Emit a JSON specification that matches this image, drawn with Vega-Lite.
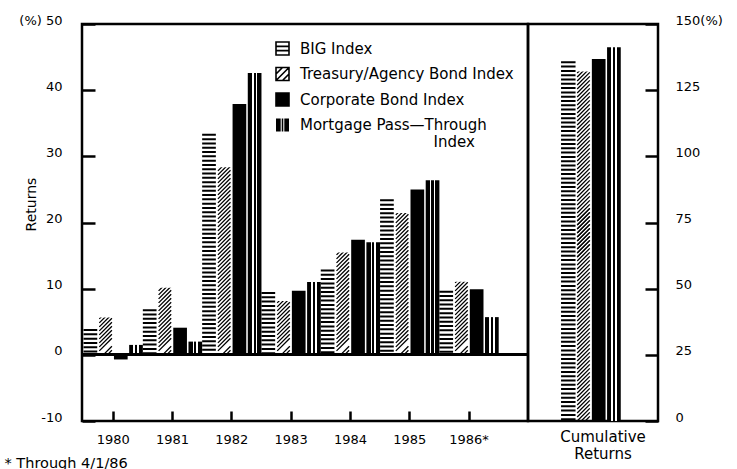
{
  "$schema": "https://vega.github.io/schema/vega-lite/v6.json",
  "background": "white",
  "padding": {"left": 2, "top": 12, "right": 5, "bottom": 2},
  "bounds": "flush",
  "spacing": 0,
  "config": {
    "view": {"stroke": "black", "strokeWidth": 2.5},
    "font": "DejaVu Sans",
    "axis": {"labelFont": "DejaVu Sans", "titleFont": "DejaVu Sans", "labelColor": "black", "titleColor": "black", "tickColor": "black", "grid": false, "domain": false, "labelFontSize": 13, "tickWidth": 2.5},
    "legend": {"labelFont": "DejaVu Sans", "labelColor": "black"}
  },
  "datasets": {
    "years": [
      {"year": "1980", "series": "BIG Index", "value": 3.9},
      {"year": "1980", "series": "Treasury/Agency Bond Index", "value": 5.8},
      {"year": "1980", "series": "Corporate Bond Index", "value": -0.7},
      {"year": "1980", "series": "Mortgage Pass—Through Index", "value": 1.5},
      {"year": "1981", "series": "BIG Index", "value": 6.9},
      {"year": "1981", "series": "Treasury/Agency Bond Index", "value": 10.3},
      {"year": "1981", "series": "Corporate Bond Index", "value": 4.1},
      {"year": "1981", "series": "Mortgage Pass—Through Index", "value": 2.0},
      {"year": "1982", "series": "BIG Index", "value": 33.4},
      {"year": "1982", "series": "Treasury/Agency Bond Index", "value": 28.5},
      {"year": "1982", "series": "Corporate Bond Index", "value": 37.9},
      {"year": "1982", "series": "Mortgage Pass—Through Index", "value": 42.6},
      {"year": "1983", "series": "BIG Index", "value": 9.5},
      {"year": "1983", "series": "Treasury/Agency Bond Index", "value": 8.3},
      {"year": "1983", "series": "Corporate Bond Index", "value": 9.7},
      {"year": "1983", "series": "Mortgage Pass—Through Index", "value": 11.0},
      {"year": "1984", "series": "BIG Index", "value": 12.9},
      {"year": "1984", "series": "Treasury/Agency Bond Index", "value": 15.6},
      {"year": "1984", "series": "Corporate Bond Index", "value": 17.4},
      {"year": "1984", "series": "Mortgage Pass—Through Index", "value": 17.0},
      {"year": "1985", "series": "BIG Index", "value": 23.5},
      {"year": "1985", "series": "Treasury/Agency Bond Index", "value": 21.6},
      {"year": "1985", "series": "Corporate Bond Index", "value": 25.0},
      {"year": "1985", "series": "Mortgage Pass—Through Index", "value": 26.4},
      {"year": "1986", "series": "BIG Index", "value": 9.7},
      {"year": "1986", "series": "Treasury/Agency Bond Index", "value": 11.2},
      {"year": "1986", "series": "Corporate Bond Index", "value": 9.9},
      {"year": "1986", "series": "Mortgage Pass—Through Index", "value": 5.7}
    ],
    "cum": [
      {"label": "Cumulative Returns", "series": "BIG Index", "value": 135.9},
      {"label": "Cumulative Returns", "series": "Treasury/Agency Bond Index", "value": 132.4},
      {"label": "Cumulative Returns", "series": "Corporate Bond Index", "value": 136.8},
      {"label": "Cumulative Returns", "series": "Mortgage Pass—Through Index", "value": 141.2}
    ]
  },
  "hconcat": [
    {
      "width": 446,
      "height": 397,
      "data": {"name": "years"},
      "layer": [
        {
          "encoding": {
            "x": {"field": "year", "type": "nominal", "sort": null,
              "scale": {"domain": ["1980", "1981", "1982", "1983", "1984", "1985", "1986"], "paddingInner": 0, "paddingOuter": 0.26, "align": 0.05},
              "axis": {"title": "* Through 4/1/86", "titleFontSize": 14.5, "titleFontWeight": "normal", "titleAnchor": "start", "titleAlign": "left", "titleBaseline": "middle", "titleX": -78, "titleY": 42, "labelAngle": 0, "tickSize": -10, "labelPadding": 22, "labelExpr": "datum.value === '1986' ? '1986*' : datum.label"}},
            "xOffset": {"field": "series", "type": "nominal", "sort": null,
              "scale": {"domain": ["BIG Index", "Treasury/Agency Bond Index", "Corporate Bond Index", "Mortgage Pass—Through Index"], "paddingInner": 0.1}},
            "y": {"field": "value", "type": "quantitative",
              "scale": {"domain": [-10, 50], "nice": false, "zero": false},
              "axis": {"values": [-10, 0, 10, 20, 30, 40, 50], "tickSize": -13, "labelPadding": 33, "labelOffset": -4, "title": "Returns", "titleFontSize": 14, "titleFontWeight": "normal", "titleX": -51, "titleY": 180, "titleAngle": 270, "titleAlign": "center", "titleBaseline": "middle", "labelExpr": "datum.value === 50 ? '(%) 50' : datum.value === -10 ? '-10' : datum.label"}}
          },
          "layer": [
            {
              "transform": [{"filter": "datum.series === 'Treasury/Agency Bond Index'"}],
              "mark": {"type": "point", "shape": "M-.063,-1l.126,-.126m-.126,.166l.126,-.126m-.126,.166l.126,-.126m-.126,.166l.126,-.126m-.126,.166l.126,-.126m-.126,.166l.126,-.126m-.126,.166l.126,-.126m-.126,.166l.126,-.126m-.126,.166l.126,-.126m-.126,.166l.126,-.126m-.126,.166l.126,-.126m-.126,.166l.126,-.126m-.126,.166l.126,-.126m-.126,.166l.126,-.126m-.126,.166l.126,-.126m-.126,.166l.126,-.126m-.126,.166l.126,-.126m-.126,.166l.126,-.126m-.126,.166l.126,-.126m-.126,.166l.126,-.126m-.126,.166l.126,-.126m-.126,.166l.126,-.126m-.126,.166l.126,-.126m-.126,.166l.126,-.126m-.126,.166l.126,-.126m-.126,.166l.126,-.126m-.126,.166l.126,-.126m-.126,.166l.126,-.126m-.126,.166l.126,-.126m-.126,.166l.126,-.126m-.126,.166l.126,-.126m-.126,.166l.126,-.126m-.126,.166l.126,-.126m-.126,.166l.126,-.126m-.126,.166l.126,-.126m-.126,.166l.126,-.126m-.126,.166l.126,-.126m-.126,.166l.126,-.126m-.126,.166l.126,-.126m-.126,.166l.126,-.126m-.126,.166l.126,-.126m-.126,.166l.126,-.126m-.126,.166l.126,-.126m-.126,.166l.126,-.126m-.126,.166l.126,-.126m-.126,.166l.126,-.126m-.126,.166l.126,-.126m-.126,.166l.126,-.126m-.126,.166l.126,-.126m-.126,.166l.126,-.126M-.023,1L.063,.914M.017,1L.063,.954", "size": 40000, "filled": false, "color": "black", "stroke": "black", "strokeWidth": 1.3, "opacity": 1},
              "encoding": {"y": {"datum": 15.11, "type": "quantitative"}}
            },
            {
              "transform": [{"filter": "datum.series === 'Treasury/Agency Bond Index'"}],
              "mark": {"type": "bar", "fill": "white", "stroke": "white", "strokeWidth": 2},
              "encoding": {"y2": {"datum": 33}}
            },
            {
              "transform": [{"filter": "datum.series === 'BIG Index'"}],
              "mark": {"type": "rule", "strokeWidth": 13.7, "strokeDash": [2, 2.3], "color": "black"},
              "encoding": {"y2": {"datum": 0}}
            },
            {
              "transform": [{"filter": "datum.series === 'Corporate Bond Index'"}],
              "mark": {"type": "bar"},
              "encoding": {
                "fill": {"field": "series", "type": "nominal",
                  "scale": {"domain": ["BIG Index", "Treasury/Agency Bond Index", "Corporate Bond Index", "Mortgage Pass—Through Index"], "range": ["white", "white", "black", "black"]},
                  "legend": {"orient": "none", "legendX": 193, "legendY": 17, "title": null, "padding": 0, "symbolType": "square", "symbolSize": 169, "symbolStrokeWidth": 1.6, "symbolStrokeColor": "black", "symbolOpacity": 1, "labelFontSize": 15, "labelLimit": 400, "labelOffset": 10, "rowPadding": 4.5,
                    "labelExpr": "datum.label === 'Mortgage Pass—Through Index' ? ['Mortgage Pass—Through', '\u200b\u00a0\u00a0\u00a0\u00a0\u00a0\u00a0\u00a0\u00a0\u00a0\u00a0\u00a0\u00a0\u00a0\u00a0\u00a0\u00a0\u00a0\u00a0\u00a0\u00a0\u00a0\u00a0\u00a0\u00a0\u00a0\u00a0\u00a0\u00a0Index'] : datum.label",
                    "encode": {"symbols": {"update": {
                      "shape": [
                        {"test": "datum.value === 'BIG Index'", "value": "M-1,-1H1V1H-1ZM-1,-0.33H1M-1,0.33H1"},
                        {"test": "datum.value === 'Treasury/Agency Bond Index'", "value": "M-1,-1H1V1H-1ZM-1,0L0,-1M-1,1L1,-1M0,1L1,0"},
                        {"test": "datum.value === 'Mortgage Pass—Through Index'", "value": "M-1,-1H-0.28V1H-1ZM-0.12,-1H0.12V1H-0.12ZM0.28,-1H1V1H0.28Z"},
                        {"value": "square"}
                      ],
                      "stroke": [
                        {"test": "datum.value === 'Mortgage Pass—Through Index'", "value": "transparent"},
                        {"value": "black"}
                      ]
                    }}}
                  }
                }
              }
            },
            {
              "transform": [{"filter": "datum.series === 'Mortgage Pass—Through Index'"}],
              "mark": {"type": "bar", "fill": {"gradient": "linear", "x1": 0, "y1": 0, "x2": 1, "y2": 0, "stops": [
                {"offset": 0, "color": "black"}, {"offset": 0.3, "color": "black"}, {"offset": 0.3, "color": "white"}, {"offset": 0.42, "color": "white"},
                {"offset": 0.42, "color": "black"}, {"offset": 0.58, "color": "black"}, {"offset": 0.58, "color": "white"}, {"offset": 0.7, "color": "white"},
                {"offset": 0.7, "color": "black"}, {"offset": 1, "color": "black"}]}}
            }
          ]
        },
        {
          "mark": {"type": "rule", "strokeWidth": 2.5, "color": "black"},
          "encoding": {"y": {"datum": 0, "type": "quantitative"}}
        }
      ]
    },
    {
      "width": 130,
      "height": 397,
      "data": {"name": "cum"},
      "encoding": {
        "x": {"field": "label", "type": "nominal",
          "scale": {"paddingInner": 0, "paddingOuter": 0.53},
          "axis": {"title": null, "labelAngle": 0, "ticks": false, "labelPadding": 8, "labelOffset": 10, "labelFontSize": 15, "labelLineHeight": 17, "labelExpr": "['Cumulative', 'Returns']"}},
        "xOffset": {"field": "series", "type": "nominal", "sort": null,
          "scale": {"domain": ["BIG Index", "Treasury/Agency Bond Index", "Corporate Bond Index", "Mortgage Pass—Through Index"], "paddingInner": 0.1}},
        "y": {"field": "value", "type": "quantitative",
          "scale": {"domain": [0, 150], "nice": false},
          "axis": {"orient": "right", "values": [0, 25, 50, 75, 100, 125, 150], "tickSize": -13, "labelPadding": 30, "labelOffset": -4, "title": null, "labelExpr": "datum.value === 150 ? '150(%)' : datum.label"}}
      },
      "layer": [
        {
          "transform": [{"filter": "datum.series === 'Treasury/Agency Bond Index'"}],
          "mark": {"type": "point", "shape": "M-.063,-1l.126,-.126m-.126,.166l.126,-.126m-.126,.166l.126,-.126m-.126,.166l.126,-.126m-.126,.166l.126,-.126m-.126,.166l.126,-.126m-.126,.166l.126,-.126m-.126,.166l.126,-.126m-.126,.166l.126,-.126m-.126,.166l.126,-.126m-.126,.166l.126,-.126m-.126,.166l.126,-.126m-.126,.166l.126,-.126m-.126,.166l.126,-.126m-.126,.166l.126,-.126m-.126,.166l.126,-.126m-.126,.166l.126,-.126m-.126,.166l.126,-.126m-.126,.166l.126,-.126m-.126,.166l.126,-.126m-.126,.166l.126,-.126m-.126,.166l.126,-.126m-.126,.166l.126,-.126m-.126,.166l.126,-.126m-.126,.166l.126,-.126m-.126,.166l.126,-.126m-.126,.166l.126,-.126m-.126,.166l.126,-.126m-.126,.166l.126,-.126m-.126,.166l.126,-.126m-.126,.166l.126,-.126m-.126,.166l.126,-.126m-.126,.166l.126,-.126m-.126,.166l.126,-.126m-.126,.166l.126,-.126m-.126,.166l.126,-.126m-.126,.166l.126,-.126m-.126,.166l.126,-.126m-.126,.166l.126,-.126m-.126,.166l.126,-.126m-.126,.166l.126,-.126m-.126,.166l.126,-.126m-.126,.166l.126,-.126m-.126,.166l.126,-.126m-.126,.166l.126,-.126m-.126,.166l.126,-.126m-.126,.166l.126,-.126m-.126,.166l.126,-.126m-.126,.166l.126,-.126m-.126,.166l.126,-.126m-.126,.166l.126,-.126M-.023,1L.063,.914M.017,1L.063,.954", "size": 40000, "filled": false, "color": "black", "stroke": "black", "strokeWidth": 1.3, "opacity": 1},
          "encoding": {"y": {"datum": 37.78, "type": "quantitative"}}
        },
        {
          "transform": [{"filter": "datum.series === 'Treasury/Agency Bond Index'"}],
          "mark": {"type": "point", "shape": "M-.063,-1l.126,-.126m-.126,.166l.126,-.126m-.126,.166l.126,-.126m-.126,.166l.126,-.126m-.126,.166l.126,-.126m-.126,.166l.126,-.126m-.126,.166l.126,-.126m-.126,.166l.126,-.126m-.126,.166l.126,-.126m-.126,.166l.126,-.126m-.126,.166l.126,-.126m-.126,.166l.126,-.126m-.126,.166l.126,-.126m-.126,.166l.126,-.126m-.126,.166l.126,-.126m-.126,.166l.126,-.126m-.126,.166l.126,-.126m-.126,.166l.126,-.126m-.126,.166l.126,-.126m-.126,.166l.126,-.126m-.126,.166l.126,-.126m-.126,.166l.126,-.126m-.126,.166l.126,-.126m-.126,.166l.126,-.126m-.126,.166l.126,-.126m-.126,.166l.126,-.126m-.126,.166l.126,-.126m-.126,.166l.126,-.126m-.126,.166l.126,-.126m-.126,.166l.126,-.126m-.126,.166l.126,-.126m-.126,.166l.126,-.126m-.126,.166l.126,-.126m-.126,.166l.126,-.126m-.126,.166l.126,-.126m-.126,.166l.126,-.126m-.126,.166l.126,-.126m-.126,.166l.126,-.126m-.126,.166l.126,-.126m-.126,.166l.126,-.126m-.126,.166l.126,-.126m-.126,.166l.126,-.126m-.126,.166l.126,-.126m-.126,.166l.126,-.126m-.126,.166l.126,-.126m-.126,.166l.126,-.126m-.126,.166l.126,-.126m-.126,.166l.126,-.126m-.126,.166l.126,-.126m-.126,.166l.126,-.126", "size": 40000, "filled": false, "color": "black", "stroke": "black", "strokeWidth": 1.3, "opacity": 1},
          "encoding": {"y": {"datum": 98.24, "type": "quantitative"}}
        },
        {
          "transform": [{"filter": "datum.series === 'Treasury/Agency Bond Index'"}],
          "mark": {"type": "bar", "fill": "white", "stroke": "white", "strokeWidth": 2},
          "encoding": {"y2": {"datum": 146}}
        },
        {
          "transform": [{"filter": "datum.series === 'BIG Index'"}],
          "mark": {"type": "rule", "strokeWidth": 14.5, "strokeDash": [2, 2.3], "color": "black"},
          "encoding": {"y2": {"datum": 0}}
        },
        {
          "transform": [{"filter": "datum.series === 'Corporate Bond Index'"}],
          "mark": {"type": "bar", "fill": "black"}
        },
        {
          "transform": [{"filter": "datum.series === 'Mortgage Pass—Through Index'"}],
          "mark": {"type": "bar", "fill": {"gradient": "linear", "x1": 0, "y1": 0, "x2": 1, "y2": 0, "stops": [
            {"offset": 0, "color": "black"}, {"offset": 0.3, "color": "black"}, {"offset": 0.3, "color": "white"}, {"offset": 0.42, "color": "white"},
            {"offset": 0.42, "color": "black"}, {"offset": 0.58, "color": "black"}, {"offset": 0.58, "color": "white"}, {"offset": 0.7, "color": "white"},
            {"offset": 0.7, "color": "black"}, {"offset": 1, "color": "black"}]}}
        }
      ]
    }
  ]
}
